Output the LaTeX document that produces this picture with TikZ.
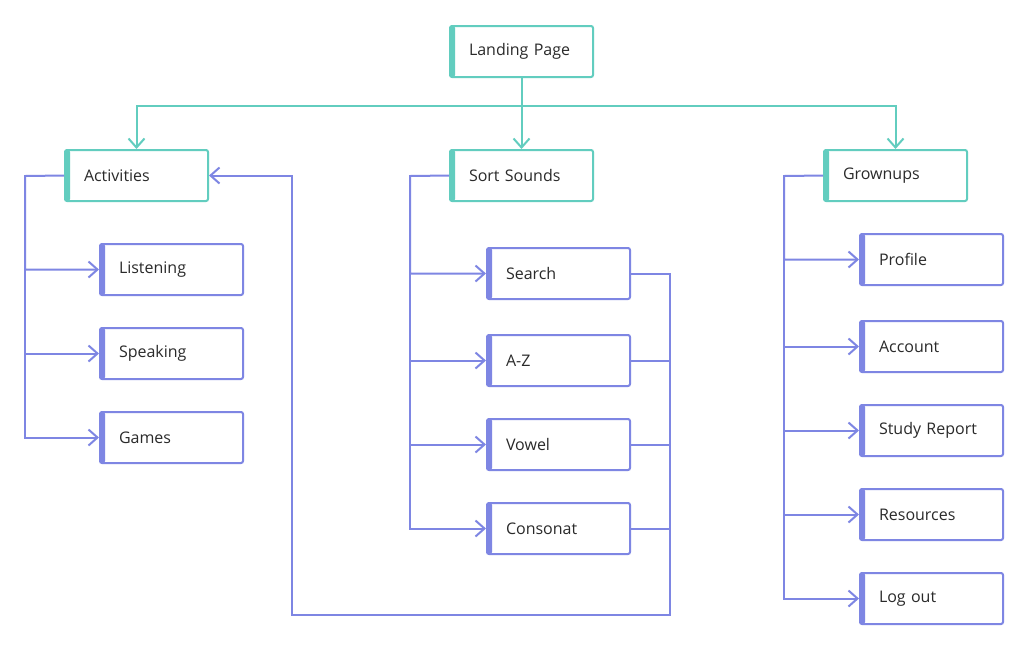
\documentclass[tikz,border=0pt]{standalone}
\usepackage{fontspec}
\setmainfont{Open Sans}
\usetikzlibrary{arrows.meta}
\definecolor{tealc}{HTML}{62CDBF}
\definecolor{purpc}{HTML}{7E86E3}
\definecolor{txtc}{HTML}{2A2A2A}
\tikzset{
  boxbase/.style={draw, fill=white, line width=2pt, rounded corners=2pt,
    minimum width=143pt, minimum height=51pt, inner sep=0pt,
    text width=105pt, align=left, anchor=north west, text=txtc,
    font=\fontsize{16}{19}\selectfont},
  tbox/.style={boxbase, draw=tealc,
    path picture={\fill[tealc] (path picture bounding box.north west) rectangle ([xshift=5pt]path picture bounding box.south west);}},
  pbox/.style={boxbase, draw=purpc,
    path picture={\fill[purpc] (path picture bounding box.north west) rectangle ([xshift=5pt]path picture bounding box.south west);}},
  tline/.style={draw=tealc, line width=2pt},
  pline/.style={draw=purpc, line width=2pt},
  arr/.style={-{Straight Barb[length=9pt,width=16pt,line width=2pt]}}
}
\begin{document}
\begin{tikzpicture}[x=1pt,y=-1pt]
\useasboundingbox[fill=white] (0,0) rectangle (1024,649);
% top level
\node[tbox] (L) at (449,25) {Landing Page};
\node[tbox] (A) at (64,149) {Activities};
\node[tbox] (S) at (449,149) {Sort Sounds};
\node[tbox] (G) at (823,149) {Grownups};
% activities children
\node[pbox] (Li) at (99,243) {Listening};
\node[pbox] (Sp) at (99,327) {Speaking};
\node[pbox] (Ga) at (99,411) {Games};
% sort sounds children
\node[pbox] (Se) at (486,247) {Search};
\node[pbox] (AZ) at (486,334) {A-Z};
\node[pbox] (Vo) at (486,418) {Vowel};
\node[pbox] (Co) at (486,502) {Consonat};
% grownups children
\node[pbox] (Pr) at (859,233) {Profile};
\node[pbox] (Ac) at (859,320) {Account};
\node[pbox] (St) at (859,404) {Study Report};
\node[pbox] (Re) at (859,488) {Resources};
\node[pbox] (Lo) at (859,572) {Log out};
% teal connectors
\coordinate (tj) at (521.5,106);
\draw[tline,arr] (L.south) -- (tj) -| (A.north);
\draw[tline,arr] (tj) -| (G.north);
\draw[tline,arr] (L.south) -- (S.north);
% activities bus
\coordinate (ab) at (25,176);
\draw[pline,arr] (A.west) -- (ab) |- (Li.west);
\draw[pline,arr] (ab) |- (Sp.west);
\draw[pline,arr] (ab) |- (Ga.west);
% sort bus
\coordinate (sb) at (410,176);
\draw[pline,arr] (S.west) -- (sb) |- (Se.west);
\draw[pline,arr] (sb) |- (AZ.west);
\draw[pline,arr] (sb) |- (Vo.west);
\draw[pline,arr] (sb) |- (Co.west);
% grownups bus
\coordinate (gb) at (784,176);
\draw[pline,arr] (G.west) -- (gb) |- (Pr.west);
\draw[pline,arr] (gb) |- (Ac.west);
\draw[pline,arr] (gb) |- (St.west);
\draw[pline,arr] (gb) |- (Re.west);
\draw[pline,arr] (gb) |- (Lo.west);
% return loop
\coordinate (b1) at (670,615);
\coordinate (b2) at (292,615);
\draw[pline,arr] (Se.east) -| (b1) -- (b2) |- (A.east);
\draw[pline] (AZ.east) -- (AZ.east -| b1);
\draw[pline] (Vo.east) -- (Vo.east -| b1);
\draw[pline] (Co.east) -- (Co.east -| b1);
\end{tikzpicture}
\end{document}
